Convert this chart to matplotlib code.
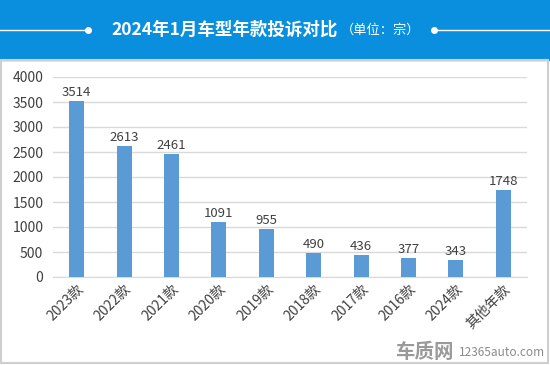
import matplotlib.pyplot as plt
from matplotlib.patches import Rectangle
from matplotlib.lines import Line2D

plt.rcParams['font.family'] = ['Noto Sans CJK SC', 'DejaVu Sans']

# data
categories = ['2023款', '2022款', '2021款', '2020款', '2019款',
              '2018款', '2017款', '2016款', '2024款', '其他年款']
counts = [3514, 2613, 2461, 1091, 955, 490, 436, 377, 343, 1748]

W, H = 550, 365
fig = plt.figure(figsize=(W / 100, H / 100), dpi=100)

# header band
fig.patches.append(Rectangle((0, 1 - 60 / H), 1, 60 / H, transform=fig.transFigure,
                             color='#0a8fde', zorder=0))
# frame around the chart body
fig.patches.append(Rectangle((1 / W, 2 / H), 1 - 3 / W, 1 - 62 / H, transform=fig.transFigure,
                             fill=False, edgecolor='#cfcfcf', lw=1.5, zorder=0))

ty = 1 - 30 / H
fig.lines.append(Line2D([0, 88 / W], [ty, ty], transform=fig.transFigure, color='white', lw=1))
fig.lines.append(Line2D([434 / W, 1], [ty, ty], transform=fig.transFigure, color='white', lw=1))
fig.lines.append(Line2D([88 / W], [ty], transform=fig.transFigure, marker='o', ms=4, color='white'))
fig.lines.append(Line2D([434 / W], [ty], transform=fig.transFigure, marker='o', ms=4, color='white'))
fig.text(338 / W, ty, '2024年1月车型年款投诉对比', color='white', fontsize=12.6, fontweight='bold',
         ha='right', va='center')
fig.text(341 / W, ty, '（单位：宗）', color='white', fontsize=9.5, ha='left', va='center')

ax = fig.add_axes([53 / W, 1 - 277 / H, 474 / W, 200 / H])
x = range(len(categories))
ax.bar(x, counts, width=0.32, color='#5b9bd5', zorder=3)
for i, v in zip(x, counts):
    ax.text(i, v + 40, str(v), ha='center', va='bottom', fontsize=9.5, color='#404040')

ax.set_xlim(-0.5, 9.5)
ax.set_ylim(0, 4000)
ax.set_yticks(range(0, 4001, 500))
ax.yaxis.grid(True, color='#d9d9d9', lw=1, zorder=0)
for s in ['top', 'right', 'left']:
    ax.spines[s].set_visible(False)
ax.spines['bottom'].set_color('#d9d9d9')
ax.tick_params(axis='both', length=0, labelsize=10, labelcolor='#404040')
ax.tick_params(axis='y', pad=7)
ax.set_xticks(list(x))
ax.set_xticklabels(categories, rotation=45, ha='right', rotation_mode='anchor')

# watermark
fig.text(424 / W, 13 / H, '车质网', color='#9a9a9a', fontsize=14, fontweight='bold', ha='center', va='center')
fig.text(502 / W, 12 / H, '12365auto.com', color='#8a8a8a', fontsize=8.5, ha='center', va='center')

fig.savefig('out.png', dpi=100)
